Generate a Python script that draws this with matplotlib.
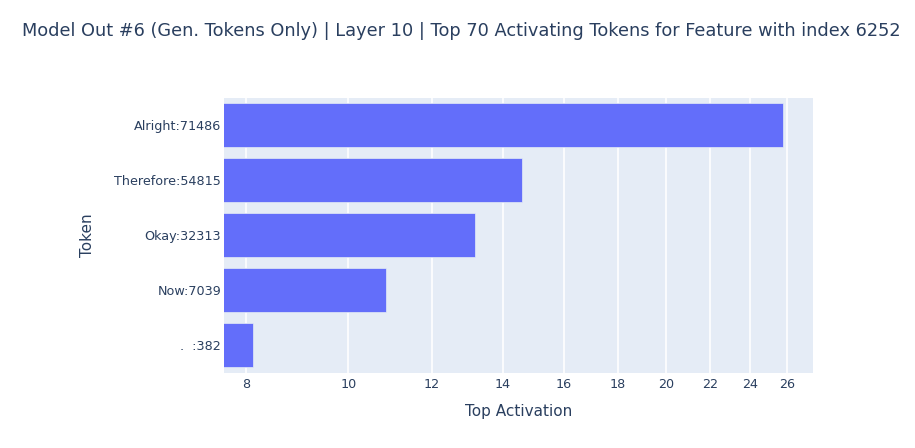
import matplotlib
matplotlib.use('Agg')
import matplotlib.pyplot as plt
from matplotlib.ticker import FixedLocator, NullLocator, FixedFormatter

# data (top first)
tokens = ["Alright:71486", "Therefore:54815", "Okay:32313", "Now:7039", ".  :382"]
activations = [25.77, 14.59, 13.18, 10.85, 8.13]
tick_vals = [8, 10, 12, 14, 16, 18, 20, 22, 24, 26]

title = ("Model Out #6 (Gen. Tokens Only) | Layer 10 | "
         "Top 70 Activating Tokens for Feature with index 6252")

txt = '#2a3f5f'
plt.rcParams['font.family'] = ['DejaVu Sans']

W, H = 915, 448
fig = plt.figure(figsize=(W / 100, H / 100), dpi=100)
ax = fig.add_axes([224 / W, 1 - 372.7 / H, (812.7 - 224) / W, (372.7 - 98) / H])
ax.set_facecolor('#e5ecf6')

ypos = list(range(len(tokens)))[::-1]
ax.set_xscale('log')
ax.barh(ypos, activations, height=0.8, color='#636efa',
        edgecolor='#e5ecf6', linewidth=0.5, zorder=3)

ax.set_xlim(7.63, 27.5)
ax.set_ylim(-0.5, len(tokens) - 0.5)

ax.xaxis.set_major_locator(FixedLocator(tick_vals))
ax.xaxis.set_major_formatter(FixedFormatter([str(v) for v in tick_vals]))
ax.xaxis.set_minor_locator(NullLocator())
ax.set_yticks(ypos)
ax.set_yticklabels(tokens)

ax.grid(True, axis='x', color='white', linewidth=1.2, zorder=0)
ax.set_axisbelow(True)
for s in ax.spines.values():
    s.set_visible(False)
ax.tick_params(axis='both', length=0, labelsize=9.2, colors=txt)
ax.tick_params(axis='x', pad=4)
ax.tick_params(axis='y', pad=2)

ax.set_xlabel("Top Activation", fontsize=11, color=txt, labelpad=9)
ax.set_ylabel("Token", fontsize=11, color=txt, labelpad=14)

fig.text(22 / W, 1 - 31 / H, title, fontsize=12.8, color=txt,
         ha='left', va='center')

fig.savefig('out.png', dpi=100)
